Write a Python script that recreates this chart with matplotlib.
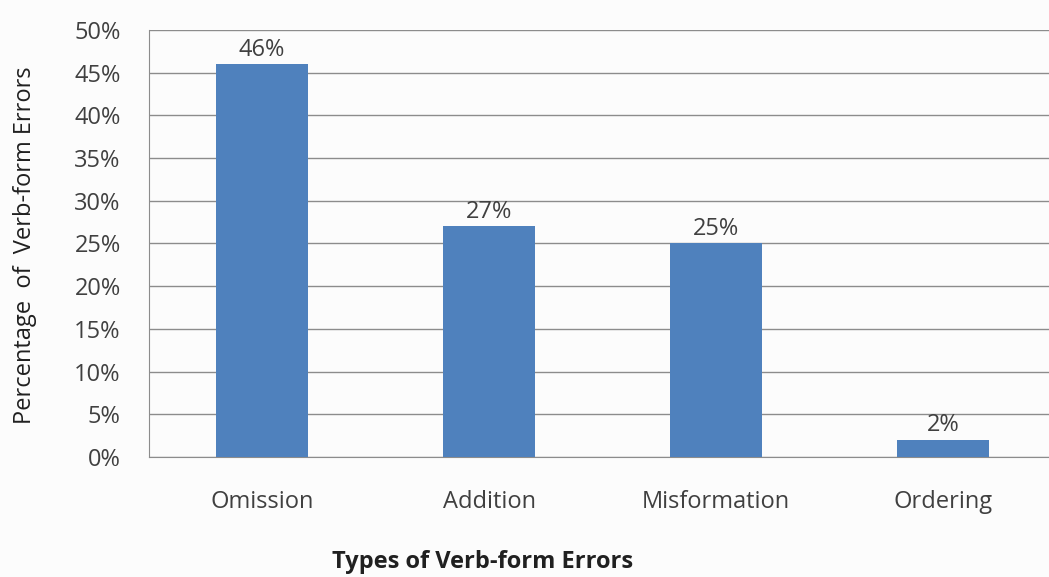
import matplotlib.pyplot as plt
from matplotlib.ticker import FuncFormatter

# error types and their share
error_types = ['Omission', 'Addition', 'Misformation', 'Ordering']
percentages = [46, 27, 25, 2]
y_ticks = [0, 5, 10, 15, 20, 25, 30, 35, 40, 45, 50]

plt.rcParams['font.family'] = ['Open Sans', 'DejaVu Sans']

fig = plt.figure(figsize=(10.49, 5.77), dpi=100, facecolor='#fcfcfc')
ax = fig.add_axes([0.1416, 0.208, 0.866, 0.740])
ax.set_facecolor('#fcfcfc')

bars = ax.bar(error_types, percentages, width=0.405, color='#4f81bd', zorder=3)
for b, v in zip(bars, percentages):
    ax.text(b.get_x() + b.get_width() / 2, v + 0.3, f'{v}%', ha='center', va='bottom',
            fontsize=17, color='#404040')

ax.set_ylim(0, 50)
ax.set_xlim(-0.5, 3.5)
ax.set_yticks(y_ticks)
ax.yaxis.set_major_formatter(FuncFormatter(lambda v, p: f'{int(v)}%'))
ax.grid(axis='y', color='#8c8c8c', linewidth=1, zorder=0)

for s in ['top', 'right']:
    ax.spines[s].set_visible(False)
ax.spines['left'].set_color('#8c8c8c')
ax.spines['bottom'].set_color('#8c8c8c')
ax.tick_params(axis='both', length=0, labelsize=17, labelcolor='#404040')
ax.tick_params(axis='x', pad=24)
ax.tick_params(axis='y', pad=20)

# axis titles placed like the original (x title sits left of centre)
fig.text(0.46, 0.026, 'Types of Verb-form Errors', fontsize=17, fontweight='bold',
         color='#202020', ha='center', va='center')
fig.text(0.024, 0.575, 'Percentage  of  Verb-form Errors', fontsize=17, rotation=90,
         family=['Liberation Sans Narrow', 'Open Sans'], color='#202020',
         ha='center', va='center')

fig.savefig('out.png', dpi=100, facecolor=fig.get_facecolor())
